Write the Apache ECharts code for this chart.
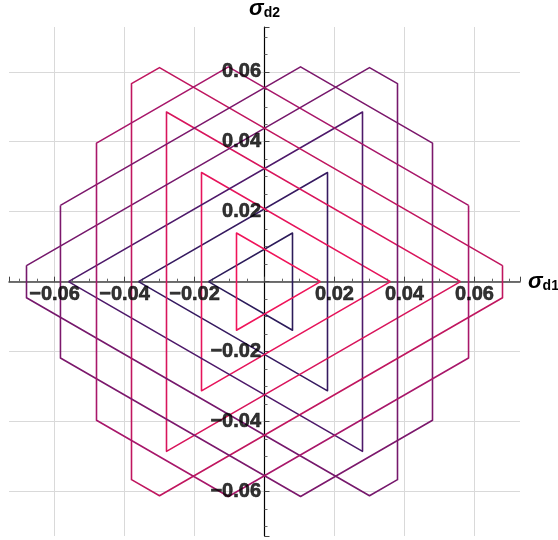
<!DOCTYPE html>
<html>
<head>
<meta charset="utf-8">
<script src="https://cdn.jsdelivr.net/npm/echarts@6/dist/echarts.min.js"></script>
<style>
  html, body { margin: 0; padding: 0; background: #fff; }
  #chart { width: 558px; height: 540px; }
</style>
</head>
<body>
<div id="chart"></div>
<script>
// axis ranges and tick values
var xRange = [-0.073, 0.073];
var yRange = [-0.0727, 0.0728];
var xTicks = [-0.06, -0.04, -0.02, 0.02, 0.04, 0.06];
var yTicks = [-0.06, -0.04, -0.02, 0.02, 0.04, 0.06];

// stress paths (sigma_d1, sigma_d2), corner points
var pathL16 = [[-0.016, 0], [0.008, 0.0139], [0.008, -0.0139], [-0.016, 0]];
var pathR16 = [[0.016, 0], [-0.008, 0.0139], [-0.008, -0.0139], [0.016, 0]];
var pathL36 = [[-0.036, 0], [0.018, 0.0312], [0.018, -0.0312], [-0.036, 0]];
var pathR36 = [[0.036, 0], [-0.018, 0.0312], [-0.018, -0.0312], [0.036, 0]];
var pathL56 = [[-0.056, 0], [0.028, 0.0485], [0.028, -0.0485], [-0.056, 0]];
var pathR56 = [[0.056, 0], [-0.028, 0.0485], [-0.028, -0.0485], [0.056, 0]];
var pathL76 = [[-0.068, 0.0046], [0.030, 0.0612], [0.038, 0.0566], [0.038, -0.0566],
               [0.030, -0.0612], [-0.068, -0.0046], [-0.068, 0.0046]];
var pathR76 = [[0.068, 0.0046], [-0.030, 0.0612], [-0.038, 0.0566], [-0.038, -0.0566],
               [-0.030, -0.0612], [0.068, -0.0046], [0.068, 0.0046]];
var pathL96 = [[-0.0583, 0.0218], [0.0103, 0.0614], [0.048, 0.0396], [0.048, -0.0396],
               [0.0103, -0.0614], [-0.0583, -0.0218], [-0.0583, 0.0218]];
var pathR96 = [[0.0583, 0.0218], [-0.0103, 0.0614], [-0.048, 0.0396], [-0.048, -0.0396],
               [-0.0103, -0.0614], [0.0583, -0.0218], [0.0583, 0.0218]];

var paths = [pathL16, pathR16, pathL36, pathR36, pathL56, pathR56, pathL76, pathR76, pathL96, pathR96];
var pathColors = ['#2c1b5a', '#f0145a', '#361a60', '#e6145b', '#4e196a', '#d8155c',
                  '#76186c', '#c0165f', '#7c186c', '#a8176a'];

var chart = echarts.init(document.getElementById('chart'), null, { renderer: 'canvas' });

function tickLabel(v) {
	var s = Math.abs(v).toFixed(2);
	return v < 0 ? '\u2212' + s : s;
}

var labelFont = {
	fontFamily: 'Liberation Sans, Arial, sans-serif',
	fontWeight: 'bold',
	fontSize: 20,
	color: '#000',
	textBorderColor: '#000',
	textBorderWidth: 0.6
};

var series = paths.map(function(p, i) {
	return {
		type: 'line',
		data: p,
		showSymbol: false,
		silent: true,
		z: 3,
		lineStyle: { color: pathColors[i], width: 1.6, join: 'round' }
	};
});

/* tick labels sitting on the zero axes */
series.push({
	type: 'scatter',
	silent: true,
	z: 5,
	symbolSize: 1,
	itemStyle: { color: 'rgba(0,0,0,0)' },
	data: xTicks.map(function(v) { return [v, 0]; }),
	label: Object.assign({
		show: true, position: 'bottom', distance: 2,
		formatter: function(p) { return tickLabel(p.value[0]); }
	}, labelFont)
});
series.push({
	type: 'scatter',
	silent: true,
	z: 5,
	symbolSize: 1,
	itemStyle: { color: 'rgba(0,0,0,0)' },
	data: yTicks.map(function(v) { return [0, v]; }),
	label: Object.assign({
		show: true, position: 'left', distance: 3,
		formatter: function(p) { return tickLabel(p.value[1]); }
	}, labelFont)
});

var nameRich = {
	s: { fontFamily: 'Liberation Sans, Arial', fontStyle: 'italic', fontWeight: 'bold', fontSize: 22, color: '#000' },
	sub: { fontFamily: 'Liberation Sans, Arial', fontWeight: 'bold', fontSize: 14, color: '#000', padding: [8, 0, 0, 0] }
};

var option = {
	animation: false,
	backgroundColor: '#fff',
	grid: { left: 9, top: 27, width: 511, height: 509, outerBoundsMode: 'none', containLabel: false },
	xAxis: {
		type: 'value',
		min: xRange[0],
		max: xRange[1],
		splitNumber: 7,
		name: '{s|σ}{sub|d1}',
		nameLocation: 'end',
		nameGap: 8,
		nameTextStyle: { rich: nameRich },
		axisLine: { onZero: true, lineStyle: { color: '#444', width: 1.5 } },
		axisTick: { show: true, inside: true, length: 5, lineStyle: { color: '#444' } },
		minorTick: { show: true, splitNumber: 4, length: 3, lineStyle: { color: '#666' } },
		splitLine: { show: true, showMinLine: false, showMaxLine: false, lineStyle: { color: '#d9d9d9', width: 1 } },
		axisLabel: { show: false }
	},
	yAxis: {
		type: 'value',
		min: yRange[0],
		max: yRange[1],
		splitNumber: 7,
		name: '{s|σ}{sub|d2}',
		nameLocation: 'end',
		nameGap: 7,
		nameTextStyle: { rich: nameRich },
		axisLine: { onZero: true, lineStyle: { color: '#000', width: 1.2 } },
		axisTick: { show: true, inside: true, length: 5, lineStyle: { color: '#444' } },
		minorTick: { show: true, splitNumber: 4, length: 3, lineStyle: { color: '#666' } },
		splitLine: { show: true, showMinLine: false, showMaxLine: false, lineStyle: { color: '#d9d9d9', width: 1 } },
		axisLabel: { show: false }
	},
	series: series
};

chart.setOption(option);
</script>
</body>
</html>
